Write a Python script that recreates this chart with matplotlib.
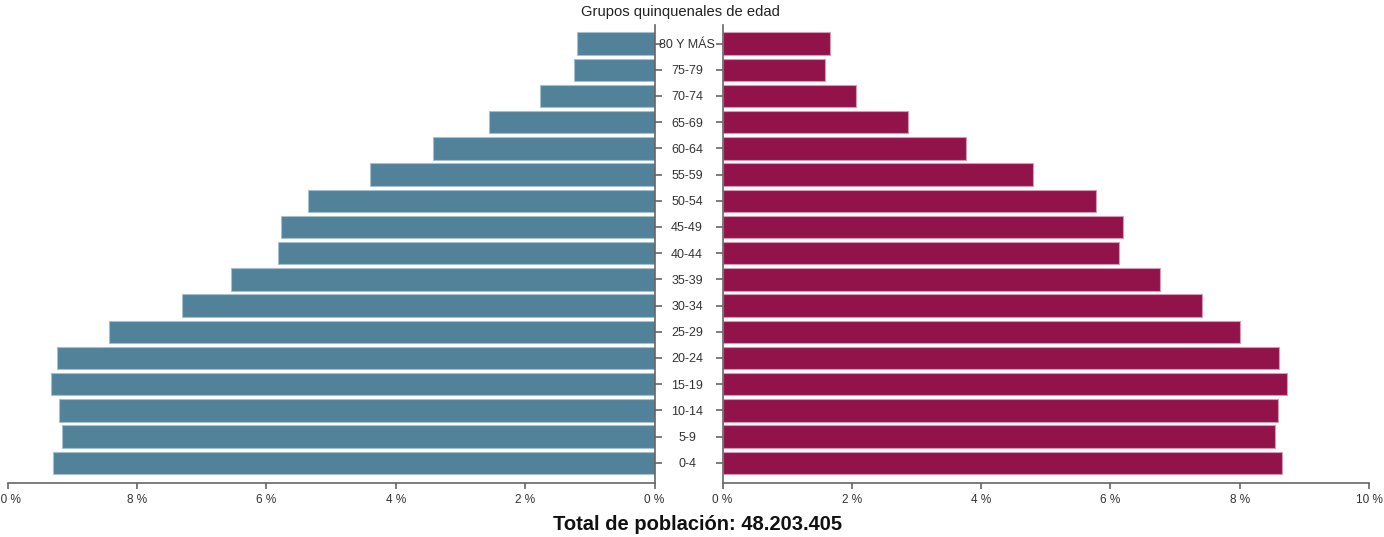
import numpy as np
import matplotlib
matplotlib.use("Agg")
import matplotlib.pyplot as plt

plt.rcParams['font.family'] = ['Liberation Sans', 'DejaVu Sans']

# datos
grupos = ['0-4', '5-9', '10-14', '15-19', '20-24', '25-29', '30-34', '35-39', '40-44',
          '45-49', '50-54', '55-59', '60-64', '65-69', '70-74', '75-79', '80 Y MÁS']
hombres = [9.30, 9.15, 9.20, 9.33, 9.23, 8.43, 7.30, 6.55, 5.82,
           5.78, 5.36, 4.40, 3.42, 2.56, 1.77, 1.25, 1.20]
mujeres = [8.66, 8.55, 8.60, 8.73, 8.61, 8.01, 7.41, 6.76, 6.13,
           6.19, 5.77, 4.81, 3.76, 2.87, 2.07, 1.59, 1.67]
xticks = [0, 2, 4, 6, 8, 10]
xlabels = ['0 %', '2 %', '4 %', '6 %', '8 %', '10 %']

c_h = '#52819a'
c_m = '#921349'
gris = '#666666'
texto = '#333333'

fig = plt.figure(figsize=(13.84, 5.37), dpi=100)
# ejes: izquierda (hombres) y derecha (mujeres)
ax_l = fig.add_axes([7.5 / 1384, 54.3 / 537, 647 / 1384, 457.7 / 537])
ax_r = fig.add_axes([722.5 / 1384, 54.3 / 537, 646.5 / 1384, 457.7 / 537])

y = np.arange(len(grupos))
ax_l.barh(y, hombres, height=0.86, color=c_h, edgecolor='#a7c0cd', linewidth=0.8)
ax_r.barh(y, mujeres, height=0.86, color=c_m, edgecolor='#d49ab3', linewidth=0.8)

for ax in (ax_l, ax_r):
    ax.set_xlim(0, 10)
    ax.set_ylim(-0.76, 16.71)
    ax.set_xticks(xticks)
    ax.set_xticklabels(xlabels)
    ax.set_yticks(y)
    ax.spines['top'].set_visible(False)
    for s in ax.spines.values():
        s.set_color(gris)
        s.set_linewidth(1.2)
    ax.tick_params(axis='x', direction='out', length=4, width=1.2, color=gris,
                   labelsize=8.5, labelcolor=texto, pad=4)
    ax.tick_params(axis='y', direction='out', length=5, width=1.2, color=gris,
                   labelsize=9, labelcolor=texto)

ax_l.invert_xaxis()
ax_l.spines['left'].set_visible(False)
ax_l.yaxis.tick_right()
ax_l.set_yticklabels([])

ax_r.spines['right'].set_visible(False)
ax_r.set_yticklabels(grupos, ha='center')
ax_r.tick_params(axis='y', pad=20.5)

fig.text(680 / 1384, 1 - 12 / 537, 'Grupos quinquenales de edad', ha='center', va='center',
         fontsize=10.6, color='#222222')
fig.text(698 / 1384, 1 - 524 / 537, 'Total de población: 48.203.405', ha='center', va='center',
         fontsize=14.5, fontweight='bold', color='#111111')

fig.savefig('out.png', dpi=100)
